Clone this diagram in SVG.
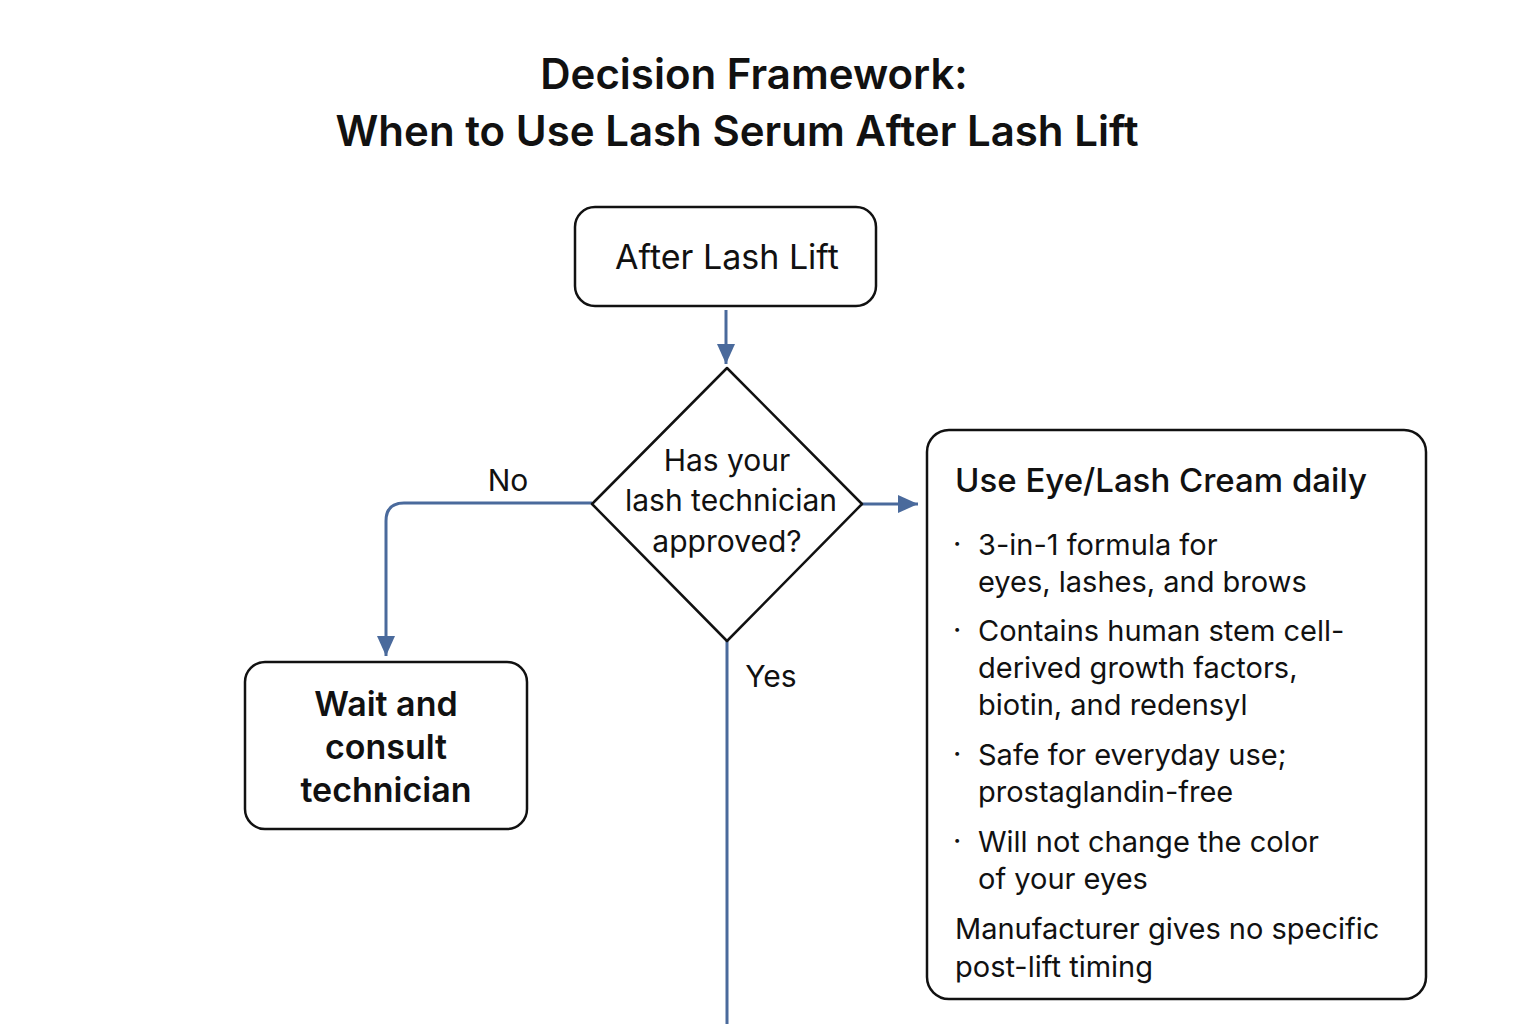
<svg xmlns="http://www.w3.org/2000/svg" width="1536" height="1024" viewBox="0 0 1536 1024">
<style>
.t{font-family:Inter,"Liberation Sans",sans-serif;fill:#111}
.b{font-weight:600}
.box{fill:#fff;stroke:#111;stroke-width:2.5}
.c{fill:none;stroke:#4a6a9c;stroke-width:3}
.r{font-size:29px}
</style>
<defs><marker id="a" markerWidth="10" markerHeight="10" refX="9" refY="5" orient="auto" markerUnits="userSpaceOnUse" viewBox="0 0 10 10"><path d="M0,0L10,5L0,10z" fill="#4a6a9c"/></marker>
<marker id="ah" markerWidth="22" markerHeight="18" refX="20" refY="9" orient="auto" markerUnits="userSpaceOnUse"><path d="M0,0L20,9L0,18z" fill="#4a6a9c"/></marker></defs>
<rect width="1536" height="1024" fill="#fff"/>
<g id="title" class="t b" font-size="42" text-anchor="middle"><text x="754" y="89">Decision Framework:</text><text x="737" y="146">When to Use Lash Serum After  Lash Lift</text></g>
<g id="connectors">
<path class="c" d="M726,310V364" marker-end="url(#ah)"/>
<path class="c" d="M592,503H404Q386,503 386,521V656" marker-end="url(#ah)"/>
<path class="c" d="M862,504H918" marker-end="url(#ah)"/>
<path class="c" d="M727,641V1024"/>
<text class="t" x="508" y="491" font-size="30" text-anchor="middle">No</text>
<text class="t" x="771" y="687" font-size="30" text-anchor="middle">Yes</text>
</g>
<g id="start"><rect class="box" x="575" y="207" width="301" height="99" rx="20"/><text class="t" x="727" y="269" font-size="34" text-anchor="middle">After Lash Lift</text></g>
<g id="decision"><path class="box" d="M727,368L862,504L727,641L592,504Z" stroke-linejoin="round"/>
<g class="t" font-size="30" text-anchor="middle"><text x="727" y="471">Has your</text><text x="731" y="511">lash technician</text><text x="727" y="552">approved?</text></g></g>
<g id="wait"><rect class="box" x="245" y="662" width="282" height="167" rx="20"/>
<g class="t b" font-size="34" text-anchor="middle"><text x="386" y="716">Wait and</text><text x="386" y="759">consult</text><text x="386" y="802">technician</text></g></g>
<g id="cream"><rect class="box" x="927" y="430" width="499" height="569" rx="22"/>
<text class="t" x="955" y="492" font-size="33" font-weight="500">Use Eye/Lash Cream daily</text>
<g class="t r">
<text x="953" y="554">·</text><text x="978" y="555">3-in-1 formula for</text><text x="978" y="592">eyes, lashes, and brows</text>
<text x="953" y="640">·</text><text x="978" y="641">Contains human stem cell-</text><text x="978" y="678">derived growth factors,</text><text x="978" y="715">biotin, and redensyl</text>
<text x="953" y="764">·</text><text x="978" y="765">Safe for everyday use;</text><text x="978" y="802">prostaglandin-free</text>
<text x="953" y="851">·</text><text x="978" y="852">Will not change the color</text><text x="978" y="889">of your eyes</text>
<text x="955" y="939">Manufacturer gives no specific</text><text x="955" y="977">post-lift timing</text>
</g></g>
</svg>
